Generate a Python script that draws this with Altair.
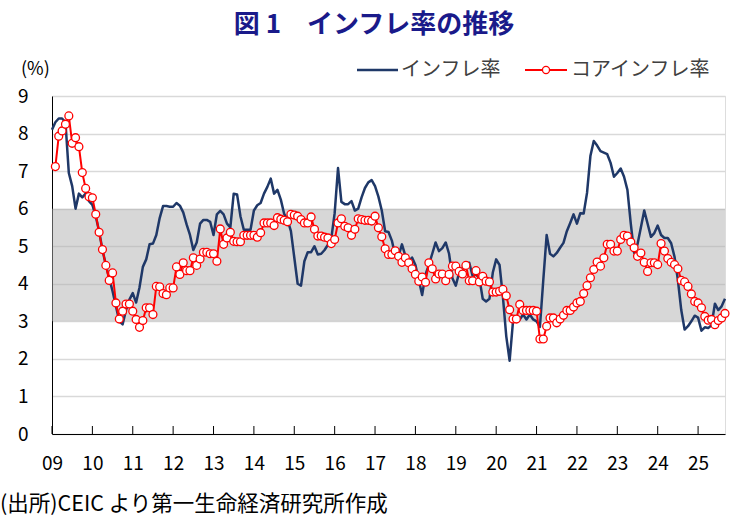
import json
import altair as alt
import pandas as pd

# Monthly headline inflation (%), Jan 2009 onward
HEADLINE = [
    8.10, 8.30, 8.40, 8.40, 8.30, 6.95, 6.60, 6.00, 6.40, 6.30, 6.40, 6.20,
    6.10, 5.80, 5.40, 4.90, 4.50, 4.15, 3.80, 3.40, 3.00, 2.92, 3.30, 3.58,
    3.75, 3.50, 3.90, 4.45, 4.65, 5.05, 5.07, 5.30, 5.75, 6.07, 6.07, 6.05,
    6.05, 6.15, 6.08, 5.90, 5.58, 5.30, 4.90, 5.10, 5.60, 5.70, 5.70, 5.65,
    5.30, 5.85, 5.94, 5.85, 5.60, 5.50, 6.40, 6.38, 5.80, 5.44, 5.44, 5.44,
    5.95, 6.09, 6.15, 6.40, 6.58, 6.80, 6.40, 6.50, 6.24, 5.86, 5.70, 5.40,
    4.70, 4.00, 3.95, 4.60, 4.84, 4.84, 5.00, 4.78, 4.80, 4.90, 5.04, 5.20,
    5.88, 7.08, 6.18, 6.12, 6.12, 6.20, 5.95, 6.00, 6.30, 6.55, 6.70, 6.76,
    6.60, 6.32, 5.95, 5.40, 5.38, 5.15, 4.75, 4.75, 5.05, 4.75, 4.60, 4.70,
    4.50, 4.10, 3.70, 4.25, 4.50, 4.80, 5.10, 4.87, 4.95, 5.10, 4.80, 4.15,
    3.95, 4.30, 4.42, 4.55, 4.56, 4.20, 4.25, 4.15, 3.60, 3.53, 3.60, 4.30,
    4.65, 4.50, 3.65, 2.60, 1.95, 3.00, 3.05, 3.05, 3.18, 3.05, 3.18, 3.05,
    3.00, 2.85, 4.10, 5.30, 4.80, 4.73, 4.82, 4.96, 5.09, 5.40, 5.62, 5.85,
    5.60, 5.88, 5.87, 6.42, 7.40, 7.80, 7.68, 7.53, 7.49, 7.45, 7.22, 6.85,
    6.95, 7.07, 6.85, 6.50, 5.60, 4.82, 5.05, 5.50, 5.95, 5.60, 5.25, 5.35,
    5.55, 5.30, 5.22, 5.22, 5.08, 4.72, 4.10, 3.30, 2.78, 2.87, 3.00, 3.15,
    3.10, 2.75, 2.84, 2.82, 2.90, 3.47, 3.30, 3.40, 3.60,
]

# Monthly core inflation (%), Feb 2009 onward
CORE = [
    7.12, 7.93, 8.07, 8.25, 8.47, 7.74, 7.89, 7.65, 6.96, 6.54, 6.32,
    6.29, 5.85, 5.37, 4.91, 4.49, 4.09, 4.29, 3.49, 3.06, 3.27, 3.46, 3.46,
    3.27, 3.05, 2.84, 3.02, 3.36, 3.36, 3.18, 3.93, 3.92, 3.74, 3.71, 3.89,
    3.89, 4.45, 4.25, 4.56, 4.35, 4.35, 4.69, 4.49, 4.66, 4.84, 4.84, 4.80,
    4.80, 4.60, 5.46, 5.05, 5.22, 5.37, 5.13, 5.12, 5.12, 5.29, 5.29, 5.29,
    5.29, 5.24, 5.36, 5.62, 5.62, 5.62, 5.55, 5.76, 5.72, 5.69, 5.65, 5.85,
    5.83, 5.80, 5.71, 5.62, 5.62, 5.78, 5.45, 5.27, 5.27, 5.24, 5.22, 5.07,
    5.18, 5.62, 5.73, 5.53, 5.49, 5.29, 5.45, 5.73, 5.71, 5.69, 5.69, 5.67,
    5.80, 5.49, 5.25, 4.93, 4.78, 4.78, 4.88, 4.73, 4.57, 4.69, 4.56, 4.40,
    4.25, 4.07, 4.18, 4.04, 4.56, 4.40, 4.13, 4.26, 4.26, 4.08, 4.25, 4.47,
    4.47, 4.33, 4.26, 4.49, 4.08, 4.08, 4.35, 4.05, 4.20, 4.07, 4.05, 3.78,
    3.78, 3.80, 3.85, 3.68, 3.31, 3.06, 3.06, 3.45, 3.29, 3.29, 3.29, 3.29,
    3.27, 2.53, 2.53, 2.87, 3.09, 3.09, 2.96, 3.06, 3.16, 3.29, 3.29, 3.38,
    3.49, 3.53, 3.74, 3.95, 4.16, 4.38, 4.58, 4.47, 4.69, 5.05, 5.05, 4.87,
    4.87, 5.18, 5.29, 5.27, 5.11, 4.96, 4.73, 4.82, 4.57, 4.33, 4.56, 4.56,
    4.51, 5.07, 4.87, 4.67, 4.57, 4.51, 4.40, 4.09, 4.05, 3.93, 3.73, 3.53,
    3.49, 3.36, 3.13, 3.03, 3.05, 2.91, 3.02, 3.09, 3.21,
]

YEAR_LABELS = ["09", "10", "11", "12", "13", "14", "15", "16", "17",
               "18", "19", "20", "21", "22", "23", "24", "25"]
Y_VALUES = [0, 1, 2, 3, 4, 5, 6, 7, 8, 9]
TARGET_BAND = [3, 6]

TITLE = "図 1\u3000インフレ率の推移"
UNIT = "(%)"
SERIES_NAMES = ["インフレ率", "コアインフレ率"]
SOURCE = "(出所)CEIC より第一生命経済研究所作成"

W, H = 673, 338
FONT = "Noto Sans CJK JP"
NAVY = "#1F3868"
RED = "#FF0000"
TEXT = "#000000"

headline_df = pd.DataFrame({"m": list(range(len(HEADLINE))), "v": HEADLINE})
core_df = pd.DataFrame({"m": list(range(1, len(CORE) + 1)), "v": CORE})
tick_df = pd.DataFrame({"m": [12 * k for k in range(len(YEAR_LABELS))]})
band_df = pd.DataFrame({"x0": [0], "x1": [len(HEADLINE) - 1],
                        "y0": [TARGET_BAND[0]], "y1": [TARGET_BAND[1]]})
one = pd.DataFrame({"k": [0]})

x_scale = alt.Scale(domain=[0, len(HEADLINE) - 1], nice=False, zero=False)
y_scale = alt.Scale(domain=[0, 9], nice=False)

x_axis = alt.Axis(
    values=tick_df["m"].tolist(),
    labelExpr=f"{json.dumps(YEAR_LABELS)}[round(datum.value / 12)]",
    ticks=False, grid=False, domain=True, domainColor="#000000", domainWidth=1,
    labelFontSize=19, labelColor=TEXT, labelPadding=20, labelFont=FONT,
    labelFlush=False, labelOverlap=False, title=None,
)
y_axis = alt.Axis(
    values=Y_VALUES, ticks=False, grid=True, gridColor="#d9d9d9", gridWidth=1.5,
    domain=True, domainColor="#000000", domainWidth=1,
    labelFontSize=19, labelColor=TEXT, labelPadding=24, labelFont=FONT,
    labelFlush=False, title=None,
)

X = lambda f: alt.X(f, type="quantitative", scale=x_scale, axis=x_axis)
Y = lambda f: alt.Y(f, type="quantitative", scale=y_scale, axis=y_axis)

band = alt.Chart(band_df).mark_rect(color="#b0b0b0", opacity=0.5).encode(
    x=X("x0"), x2="x1", y=Y("y0"), y2="y1"
)

year_ticks = alt.Chart(tick_df).mark_rule(color="#000000", strokeWidth=1).encode(
    x=X("m"), y=alt.value(H), y2=alt.value(H - 8)
)

headline = alt.Chart(headline_df).mark_line(
    color=NAVY, strokeWidth=2.5, strokeJoin="round"
).encode(x=X("m"), y=Y("v"))

core_line = alt.Chart(core_df).mark_line(color=RED, strokeWidth=2).encode(
    x=X("m"), y=Y("v")
)
core_pts = alt.Chart(core_df).mark_point(
    shape="circle", filled=True, fill="#ffffff", stroke=RED,
    strokeWidth=1.3, size=62, opacity=1,
).encode(x=X("m"), y=Y("v"))

# Title, unit label, legend and source note sit outside the plot frame
title = alt.Chart(one).mark_text(
    text=TITLE, font=FONT, fontSize=26, fontWeight="bold", color="#1A1A8A",
    align="center", baseline="middle",
).encode(x=alt.value(322), y=alt.value(-71))

unit = alt.Chart(one).mark_text(
    text=UNIT, font=FONT, fontSize=18, color=TEXT, align="left", baseline="middle",
).encode(x=alt.value(-31), y=alt.value(-26))

leg_blue = alt.Chart(one).mark_rule(color=NAVY, strokeWidth=2.5).encode(
    x=alt.value(305), x2=alt.value(346), y=alt.value(-26)
)
leg_red = alt.Chart(one).mark_rule(color=RED, strokeWidth=2).encode(
    x=alt.value(473), x2=alt.value(515), y=alt.value(-26)
)
leg_red_pt = alt.Chart(one).mark_point(
    shape="circle", filled=True, fill="#ffffff", stroke=RED,
    strokeWidth=1.3, size=50, opacity=1,
).encode(x=alt.value(494), y=alt.value(-26))
leg_text1 = alt.Chart(one).mark_text(
    text=SERIES_NAMES[0], font=FONT, fontSize=20, color="#404040",
    align="left", baseline="middle",
).encode(x=alt.value(349), y=alt.value(-26))
leg_text2 = alt.Chart(one).mark_text(
    text=SERIES_NAMES[1], font=FONT, fontSize=20, color="#404040",
    align="left", baseline="middle",
).encode(x=alt.value(519), y=alt.value(-26))

source = alt.Chart(one).mark_text(
    text=SOURCE, font=FONT, fontSize=21.5, color=TEXT, align="left", baseline="middle",
).encode(x=alt.value(-52), y=alt.value(409))

chart = alt.layer(
    band, year_ticks, headline, core_line, core_pts,
    title, unit, leg_blue, leg_red, leg_red_pt, leg_text1, leg_text2, source,
).properties(
    width=W, height=H, autosize="none",
    padding={"left": 52, "top": 96, "right": 7, "bottom": 86},
).configure_view(stroke=None).configure(font=FONT)

chart.save("out.html", embed_options={"renderer": "svg", "actions": False})
